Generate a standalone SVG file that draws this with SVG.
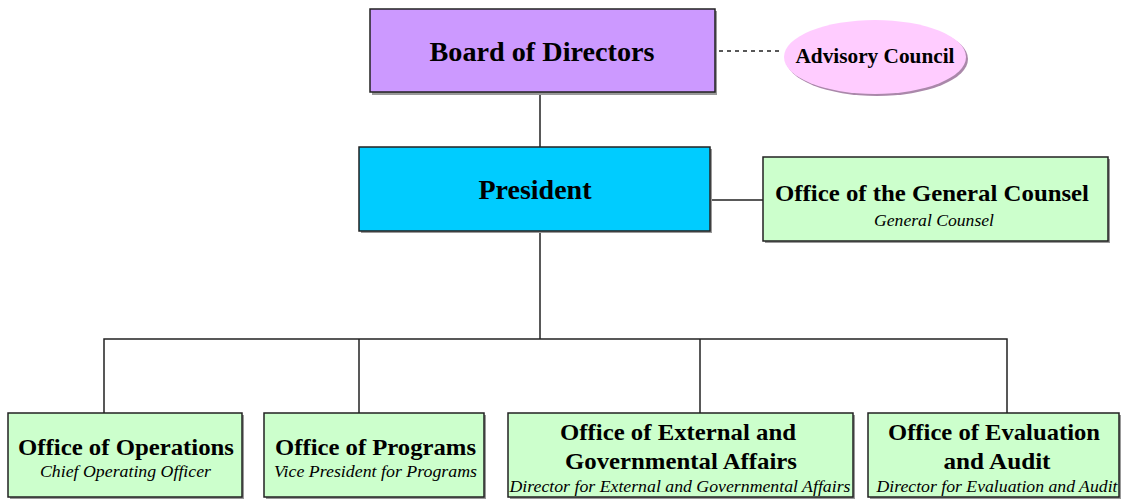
<svg xmlns="http://www.w3.org/2000/svg" width="1123" height="499" viewBox="0 0 1123 499">
<style>
.box{stroke:#222;stroke-width:1.5}
.sh{fill:#999}
.t{font-family:"Liberation Serif","Times New Roman",serif;font-weight:bold;text-anchor:middle;fill:#000}
.s{font-family:"Liberation Serif","Times New Roman",serif;font-style:italic;text-anchor:middle;fill:#000}
.ln{stroke:#222;stroke-width:1.5;fill:none}
</style>
<rect width="1123" height="499" fill="#fff"/>
<g id="connectors">
<line class="ln" x1="540" y1="92" x2="540" y2="147"/>
<line class="ln" x1="719" y1="51" x2="782" y2="51" stroke-dasharray="4,4" stroke-width="1.2"/>
<line class="ln" x1="710" y1="200" x2="763" y2="200" stroke-width="1.2"/>
<polyline class="ln" points="540,231 540,339"/>
<polyline class="ln" points="104,413 104,339 1007,339 1007,413"/>
<line class="ln" x1="359" y1="339" x2="359" y2="413"/>
<line class="ln" x1="700" y1="339" x2="700" y2="413"/>
</g>
<g id="board">
<rect class="sh" x="372" y="11" width="345" height="84"/>
<rect class="box" x="370" y="9" width="345" height="83" fill="#CC99FF"/>
<text class="t" x="542" y="61" font-size="27" textLength="225" lengthAdjust="spacingAndGlyphs">Board of Directors</text>
</g>
<g id="advisory">
<ellipse cx="877" cy="59" rx="91" ry="37" fill="#aa88aa"/>
<ellipse cx="875" cy="57" rx="91" ry="37" fill="#FFCCFF"/>
<text class="t" x="875" y="63" font-size="20" textLength="159" lengthAdjust="spacingAndGlyphs">Advisory Council</text>
</g>
<g id="president">
<rect class="sh" x="361" y="149" width="351" height="84"/>
<rect class="box" x="359" y="147" width="351" height="84" fill="#00CCFF"/>
<text class="t" x="535" y="199" font-size="27" textLength="113" lengthAdjust="spacingAndGlyphs">President</text>
</g>
<g id="general-counsel">
<rect class="sh" x="765" y="159" width="345" height="84"/>
<rect class="box" x="763" y="157" width="345" height="84" fill="#CCFFCC"/>
<text class="t" x="932" y="201" font-size="24" textLength="314" lengthAdjust="spacingAndGlyphs">Office of the General Counsel</text>
<text class="s" x="934" y="226" font-size="17" textLength="120" lengthAdjust="spacingAndGlyphs">General Counsel</text>
</g>
<g id="operations">
<rect class="sh" x="10" y="415" width="234" height="84"/>
<rect class="box" x="8" y="413" width="234" height="84" fill="#CCFFCC"/>
<text class="t" x="126" y="455" font-size="24" textLength="216" lengthAdjust="spacingAndGlyphs">Office of Operations</text>
<text class="s" x="125.5" y="477" font-size="17" textLength="171" lengthAdjust="spacingAndGlyphs">Chief Operating Officer</text>
</g>
<g id="programs">
<rect class="sh" x="266" y="415" width="220" height="84"/>
<rect class="box" x="264" y="413" width="220" height="84" fill="#CCFFCC"/>
<text class="t" x="375.5" y="455" font-size="24" textLength="201" lengthAdjust="spacingAndGlyphs">Office of Programs</text>
<text class="s" x="375.5" y="477" font-size="17" textLength="203" lengthAdjust="spacingAndGlyphs">Vice President for Programs</text>
</g>
<g id="external">
<rect class="sh" x="510" y="415" width="345" height="84"/>
<rect class="box" x="508" y="413" width="345" height="84" fill="#CCFFCC"/>
<text class="t" x="678" y="440" font-size="24" textLength="236" lengthAdjust="spacingAndGlyphs">Office of External and</text>
<text class="t" x="681" y="469" font-size="24" textLength="232" lengthAdjust="spacingAndGlyphs">Governmental Affairs</text>
<text class="s" x="680" y="492" font-size="17" textLength="341" lengthAdjust="spacingAndGlyphs">Director for External and Governmental Affairs</text>
</g>
<g id="evaluation">
<rect class="sh" x="870" y="415" width="251" height="84"/>
<rect class="box" x="868" y="413" width="251" height="84" fill="#CCFFCC"/>
<text class="t" x="994" y="440" font-size="24" textLength="212" lengthAdjust="spacingAndGlyphs">Office of Evaluation</text>
<text class="t" x="997" y="469" font-size="24" textLength="107" lengthAdjust="spacingAndGlyphs">and Audit</text>
<text class="s" x="997" y="492" font-size="17" textLength="241" lengthAdjust="spacingAndGlyphs">Director for Evaluation and Audit</text>
</g>
</svg>
